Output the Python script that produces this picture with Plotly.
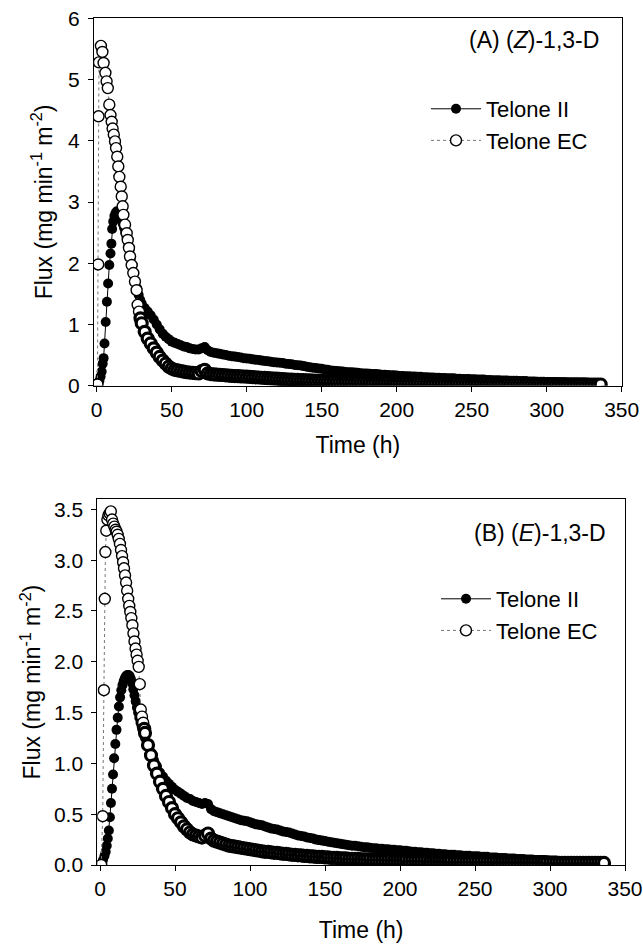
import plotly.graph_objects as go

# ---------------- data ----------------
# Shared sampling times for the long tail (h)
tail_t = list(range(30, 337, 2))

# Panel A: (Z)-1,3-D
a_ii_t_early = [0, 1.0, 1.8, 2.6, 3.3, 4.0, 4.6, 5.2, 6.0, 6.8,
                7.6, 8.4, 9.2, 9.8, 10.3, 11.0, 11.8, 12.6, 13.4, 14.2,
                15.0, 15.8, 16.6, 17.4, 18.2, 19.0, 20.0, 21.0, 22.0, 23.0,
                24.0, 25.0, 26.0, 27.0, 28.0, 29.0]
a_ii_v_early = [0.00, 0.03, 0.08, 0.15, 0.23, 0.36, 0.45, 0.69, 1.04, 1.37,
                1.67, 1.97, 2.16, 2.32, 2.56, 2.68, 2.77, 2.82, 2.85, 2.84,
                2.81, 2.76, 2.70, 2.64, 2.58, 2.50, 2.42, 2.33, 2.22, 2.10,
                1.97, 1.84, 1.71, 1.59, 1.48, 1.40]
a_ii_v_tail = [1.34, 1.27, 1.21, 1.15, 1.08, 1.00, 0.92, 0.85, 0.80, 0.76,
               0.72, 0.70, 0.68, 0.66, 0.64, 0.63, 0.61, 0.60, 0.59, 0.59,
               0.61, 0.63, 0.58, 0.55, 0.54, 0.53, 0.52, 0.51, 0.50, 0.49,
               0.48, 0.475, 0.47, 0.46, 0.45, 0.445, 0.44, 0.43, 0.425, 0.42,
               0.41, 0.405, 0.40, 0.39, 0.385, 0.38, 0.375, 0.37, 0.36, 0.355,
               0.35, 0.34, 0.335, 0.33, 0.32, 0.31, 0.30, 0.295, 0.29, 0.28,
               0.275, 0.265, 0.26, 0.25, 0.245, 0.24, 0.235, 0.23, 0.225, 0.22,
               0.22, 0.215, 0.21, 0.205, 0.20, 0.20, 0.195, 0.19, 0.19, 0.185,
               0.18, 0.18, 0.175, 0.17, 0.17, 0.165, 0.16, 0.16, 0.155, 0.155,
               0.15, 0.15, 0.145, 0.145, 0.14, 0.14, 0.135, 0.135, 0.13, 0.13,
               0.125, 0.125, 0.12, 0.12, 0.12, 0.115, 0.115, 0.11, 0.11, 0.11,
               0.105, 0.105, 0.10, 0.10, 0.10, 0.095, 0.095, 0.09, 0.09, 0.09,
               0.085, 0.085, 0.085, 0.08, 0.08, 0.08, 0.075, 0.075, 0.075, 0.07,
               0.07, 0.07, 0.065, 0.065, 0.065, 0.06, 0.06, 0.06, 0.06, 0.055,
               0.055, 0.055, 0.05, 0.05, 0.05, 0.05, 0.045, 0.045, 0.045, 0.045,
               0.04, 0.04, 0.04, 0.04]

a_ec_t_early = [0.5, 1.0, 1.2, 1.5, 2.8, 3.8, 4.6, 5.8, 6.6, 7.4,
                8.4, 9.2, 10.0, 10.6, 11.4, 12.2, 12.9, 13.7, 14.4, 15.1,
                16.0, 16.7, 17.3, 17.8, 18.9, 20.0, 20.7, 21.5, 22.2, 23.3,
                24.4, 25.5, 26.6, 27.3, 28.2, 29.2]
a_ec_v_early = [0.02, 1.98, 4.40, 5.28, 5.55, 5.45, 5.27, 5.11, 4.97, 4.86,
                4.59, 4.42, 4.31, 4.20, 4.10, 3.99, 3.88, 3.74, 3.58, 3.41,
                3.25, 3.09, 2.93, 2.79, 2.63, 2.49, 2.38, 2.25, 2.11, 1.97,
                1.84, 1.70, 1.56, 1.32, 1.21, 1.10]
a_ec_v_tail = [1.02, 0.88, 0.77, 0.69, 0.61, 0.54, 0.47, 0.41, 0.36, 0.31,
               0.28, 0.26, 0.25, 0.24, 0.23, 0.22, 0.215, 0.21, 0.205, 0.20,
               0.24, 0.26, 0.20, 0.19, 0.185, 0.18, 0.178, 0.175, 0.17, 0.165,
               0.16, 0.158, 0.155, 0.152, 0.15, 0.147, 0.145, 0.14, 0.137, 0.134,
               0.13, 0.127, 0.124, 0.12, 0.117, 0.114, 0.11, 0.107, 0.104, 0.10,
               0.098, 0.096, 0.094, 0.092, 0.09, 0.088, 0.086, 0.084, 0.082, 0.08,
               0.078, 0.077, 0.076, 0.074, 0.072, 0.07, 0.069, 0.068, 0.067, 0.066,
               0.065, 0.064, 0.063, 0.062, 0.061, 0.06, 0.059, 0.058, 0.057, 0.056,
               0.055, 0.054, 0.053, 0.052, 0.051, 0.05, 0.05, 0.049, 0.048, 0.048,
               0.047, 0.046, 0.046, 0.045, 0.044, 0.044, 0.043, 0.042, 0.042, 0.041,
               0.04, 0.04, 0.039, 0.039, 0.038, 0.038, 0.037, 0.037, 0.036, 0.036,
               0.035, 0.035, 0.034, 0.034, 0.033, 0.033, 0.032, 0.032, 0.031, 0.031,
               0.03, 0.03, 0.03, 0.029, 0.029, 0.028, 0.028, 0.028, 0.027, 0.027,
               0.026, 0.026, 0.026, 0.025, 0.025, 0.025, 0.024, 0.024, 0.024, 0.023,
               0.023, 0.023, 0.022, 0.022, 0.022, 0.022, 0.021, 0.021, 0.021, 0.02,
               0.02, 0.02, 0.02, 0.02]

# Panel B: (E)-1,3-D
b_ii_t_early = [0, 1.0, 2.0, 3.0, 3.8, 4.5, 5.2, 5.9, 6.6, 7.3,
                8.0, 8.7, 9.4, 10.2, 11.0, 11.8, 12.6, 13.4, 14.2, 15.0,
                15.8, 16.6, 17.4, 18.2, 19.0, 19.8, 20.6, 21.4, 22.2, 23.0,
                23.8, 24.6, 25.4, 26.2, 27.0, 27.8, 28.6, 29.4]
b_ii_v_early = [0.00, 0.02, 0.05, 0.09, 0.13, 0.19, 0.26, 0.34, 0.47, 0.61,
                0.75, 0.89, 1.05, 1.19, 1.33, 1.45, 1.56, 1.65, 1.72, 1.77,
                1.81, 1.84, 1.86, 1.87, 1.87, 1.86, 1.83, 1.79, 1.73, 1.67,
                1.61, 1.55, 1.50, 1.45, 1.40, 1.36, 1.32, 1.28]
b_ii_v_tail = [1.25, 1.18, 1.11, 1.03, 0.97, 0.91, 0.87, 0.83, 0.80, 0.77,
               0.74, 0.72, 0.70, 0.68, 0.66, 0.65, 0.63, 0.62, 0.61, 0.60,
               0.61, 0.60, 0.55, 0.53, 0.52, 0.51, 0.50, 0.49, 0.48, 0.47,
               0.46, 0.45, 0.44, 0.435, 0.43, 0.42, 0.41, 0.40, 0.395, 0.39,
               0.38, 0.37, 0.36, 0.355, 0.35, 0.34, 0.33, 0.325, 0.32, 0.31,
               0.30, 0.29, 0.285, 0.28, 0.27, 0.265, 0.26, 0.25, 0.245, 0.24,
               0.235, 0.23, 0.225, 0.22, 0.215, 0.21, 0.205, 0.20, 0.195, 0.19,
               0.19, 0.185, 0.18, 0.175, 0.175, 0.17, 0.165, 0.165, 0.16, 0.16,
               0.155, 0.155, 0.15, 0.15, 0.145, 0.145, 0.14, 0.14, 0.135, 0.13,
               0.13, 0.125, 0.125, 0.12, 0.12, 0.115, 0.115, 0.11, 0.11, 0.105,
               0.105, 0.10, 0.10, 0.10, 0.095, 0.095, 0.09, 0.09, 0.09, 0.085,
               0.085, 0.085, 0.08, 0.08, 0.08, 0.075, 0.075, 0.075, 0.07, 0.07,
               0.07, 0.065, 0.065, 0.065, 0.06, 0.06, 0.06, 0.055, 0.055, 0.055,
               0.05, 0.05, 0.05, 0.05, 0.045, 0.045, 0.045, 0.045, 0.04, 0.04,
               0.04, 0.04, 0.04, 0.035, 0.035, 0.035, 0.035, 0.03, 0.03, 0.03,
               0.03, 0.03, 0.03, 0.03]

b_ec_t_early = [0.8, 1.8, 2.6, 3.2, 3.6, 4.2, 4.9, 5.6, 6.4, 7.2,
                8.0, 8.8, 9.6, 10.4, 11.1, 11.8, 12.5, 13.3, 14.0, 14.7,
                15.4, 16.0, 16.7, 17.4, 18.1, 18.8, 19.5, 20.2, 20.9, 21.6,
                22.3, 23.0, 23.7, 24.4, 25.1, 25.8, 26.5, 27.2, 28.0, 28.8,
                29.5]
b_ec_v_early = [0.00, 0.48, 1.72, 2.62, 3.08, 3.29, 3.40, 3.44, 3.46, 3.48,
                3.40, 3.36, 3.33, 3.30, 3.28, 3.25, 3.21, 3.16, 3.10, 3.04,
                2.98, 2.92, 2.85, 2.78, 2.70, 2.62, 2.55, 2.49, 2.43, 2.36,
                2.28, 2.20, 2.13, 2.07, 2.01, 1.95, 1.78, 1.53, 1.46, 1.40,
                1.34]
b_ec_v_tail = [1.30, 1.18, 1.08, 0.98, 0.90, 0.82, 0.75, 0.68, 0.62, 0.56,
               0.50, 0.46, 0.42, 0.38, 0.35, 0.32, 0.30, 0.29, 0.28, 0.27,
               0.29, 0.31, 0.26, 0.24, 0.23, 0.22, 0.21, 0.20, 0.19, 0.185,
               0.18, 0.175, 0.17, 0.165, 0.16, 0.155, 0.15, 0.145, 0.14, 0.135,
               0.13, 0.13, 0.125, 0.12, 0.12, 0.115, 0.11, 0.11, 0.105, 0.10,
               0.10, 0.095, 0.095, 0.09, 0.09, 0.085, 0.085, 0.08, 0.08, 0.08,
               0.075, 0.075, 0.07, 0.07, 0.07, 0.065, 0.065, 0.065, 0.06, 0.06,
               0.06, 0.06, 0.055, 0.055, 0.055, 0.055, 0.05, 0.05, 0.05, 0.05,
               0.05, 0.05, 0.05, 0.045, 0.045, 0.045, 0.045, 0.045, 0.04, 0.04,
               0.04, 0.04, 0.04, 0.04, 0.04, 0.035, 0.035, 0.035, 0.035, 0.035,
               0.035, 0.035, 0.035, 0.03, 0.03, 0.03, 0.03, 0.03, 0.03, 0.03,
               0.03, 0.03, 0.03, 0.03, 0.03, 0.03, 0.03, 0.03, 0.025, 0.025,
               0.025, 0.025, 0.025, 0.025, 0.025, 0.025, 0.025, 0.025, 0.025, 0.025,
               0.025, 0.025, 0.025, 0.025, 0.025, 0.02, 0.02, 0.02, 0.02, 0.02,
               0.02, 0.02, 0.02, 0.02, 0.02, 0.02, 0.02, 0.02, 0.02, 0.02,
               0.02, 0.02, 0.02, 0.02]

series_names = ["Telone II", "Telone EC"]
x_ticks = [0, 50, 100, 150, 200, 250, 300, 350]

for _t, _v in [(a_ii_t_early, a_ii_v_early), (a_ec_t_early, a_ec_v_early),
               (b_ii_t_early, b_ii_v_early), (b_ec_t_early, b_ec_v_early)]:
    assert len(_t) == len(_v)
for _v in [a_ii_v_tail, a_ec_v_tail, b_ii_v_tail, b_ec_v_tail]:
    assert len(_v) == len(tail_t)

FONT = "Liberation Sans, Arial, Helvetica, sans-serif"
W, H = 643, 945

fig = go.Figure()

panels = [
    (a_ii_t_early, a_ii_v_early, a_ii_v_tail,
     a_ec_t_early, a_ec_v_early, a_ec_v_tail, "x", "y", "legend"),
    (b_ii_t_early, b_ii_v_early, b_ii_v_tail,
     b_ec_t_early, b_ec_v_early, b_ec_v_tail, "x2", "y2", "legend2"),
]

ec_line = dict(color="#777777", width=1, dash="dot")

for ii_t, ii_v, ii_tail, ec_t, ec_v, ec_tail, xa, ya, leg in panels:
    fig.add_trace(go.Scatter(
        x=list(ii_t) + tail_t, y=list(ii_v) + list(ii_tail),
        mode="lines+markers", name=series_names[0],
        line=dict(color="black", width=1),
        marker=dict(symbol="circle", size=10, color="black", line=dict(width=0)),
        xaxis=xa, yaxis=ya, legend=leg))
    # Telone EC: early, well separated points
    fig.add_trace(go.Scatter(
        x=ec_t, y=ec_v, mode="lines+markers", name=series_names[1],
        line=ec_line,
        marker=dict(symbol="circle", size=11, color="white",
                    line=dict(color="black", width=1.4)),
        xaxis=xa, yaxis=ya, legend=leg, legendgroup="ec" + xa))
    # Telone EC: densely sampled tail (reads as an almost solid band)
    fig.add_trace(go.Scatter(
        x=[ec_t[-1]] + tail_t, y=[ec_v[-1]] + list(ec_tail),
        mode="lines+markers", name=series_names[1], showlegend=False,
        line=ec_line,
        marker=dict(symbol="circle", size=11, color="white",
                    line=dict(color="black", width=3.2)),
        xaxis=xa, yaxis=ya, legend=leg, legendgroup="ec" + xa))

axis_common = dict(showline=True, linecolor="black", linewidth=1, mirror=True,
                   ticks="outside", ticklen=5, tickwidth=1, tickcolor="black",
                   showgrid=False, zeroline=False,
                   tickfont=dict(family=FONT, size=21, color="black"),
                   automargin=False)

TITLE_FONT = dict(family=FONT, size=23, color="black")
ytitle = "Flux (mg min<sup>-1</sup> m<sup>-2</sup>)"

fig.update_layout(
    width=W, height=H,
    margin=dict(l=0, r=0, t=0, b=0),
    paper_bgcolor="white", plot_bgcolor="white",
    font=dict(family=FONT, color="black"),
    xaxis=dict(axis_common, domain=[94 / W, 621.7 / W], anchor="y",
               range=[-1.8, 350], tickmode="array", tickvals=x_ticks,
               title=dict(text="Time (h)", font=TITLE_FONT, standoff=16)),
    yaxis=dict(axis_common, domain=[1 - 385.7 / H, 1 - 18.3 / H], anchor="x",
               range=[0, 6], tickmode="linear", tick0=0, dtick=1,
               ticklabelstandoff=4,
               title=dict(text=ytitle, font=TITLE_FONT, standoff=9)),
    xaxis2=dict(axis_common, domain=[97.3 / W, 625 / W], anchor="y2",
                range=[-1.8, 350], tickmode="array", tickvals=x_ticks,
                title=dict(text="Time (h)", font=TITLE_FONT, standoff=22)),
    yaxis2=dict(axis_common, domain=[1 - 865 / H, 1 - 499.2 / H], anchor="x2",
                range=[0, 3.6], tickmode="linear", tick0=0, dtick=0.5, tickformat=".1f",
                ticklabelstandoff=4,
                title=dict(text=ytitle, font=TITLE_FONT, standoff=6)),
    legend=dict(x=426 / W, y=1 - 88 / H, xanchor="left", yanchor="top",
                bgcolor="rgba(0,0,0,0)", font=dict(family=FONT, size=22, color="black"),
                itemwidth=50, tracegroupgap=0),
    legend2=dict(x=436 / W, y=1 - 578 / H, xanchor="left", yanchor="top",
                 bgcolor="rgba(0,0,0,0)", font=dict(family=FONT, size=22, color="black"),
                 itemwidth=50, tracegroupgap=0),
    annotations=[
        dict(text="(A) (<i>Z</i>)-1,3-D", xref="paper", yref="paper",
             x=601 / W, y=1 - 40 / H, xanchor="right", yanchor="middle",
             showarrow=False, font=dict(family=FONT, size=23, color="black")),
        dict(text="(B) (<i>E</i>)-1,3-D", xref="paper", yref="paper",
             x=608 / W, y=1 - 533 / H, xanchor="right", yanchor="middle",
             showarrow=False, font=dict(family=FONT, size=23, color="black")),
    ],
    showlegend=True,
)

fig.write_html("out.html",
               config={"displayModeBar": False},
               post_script="document.body.style.margin='0px';"
                           "document.body.style.padding='0px';"
                           "document.body.style.overflow='hidden';")
